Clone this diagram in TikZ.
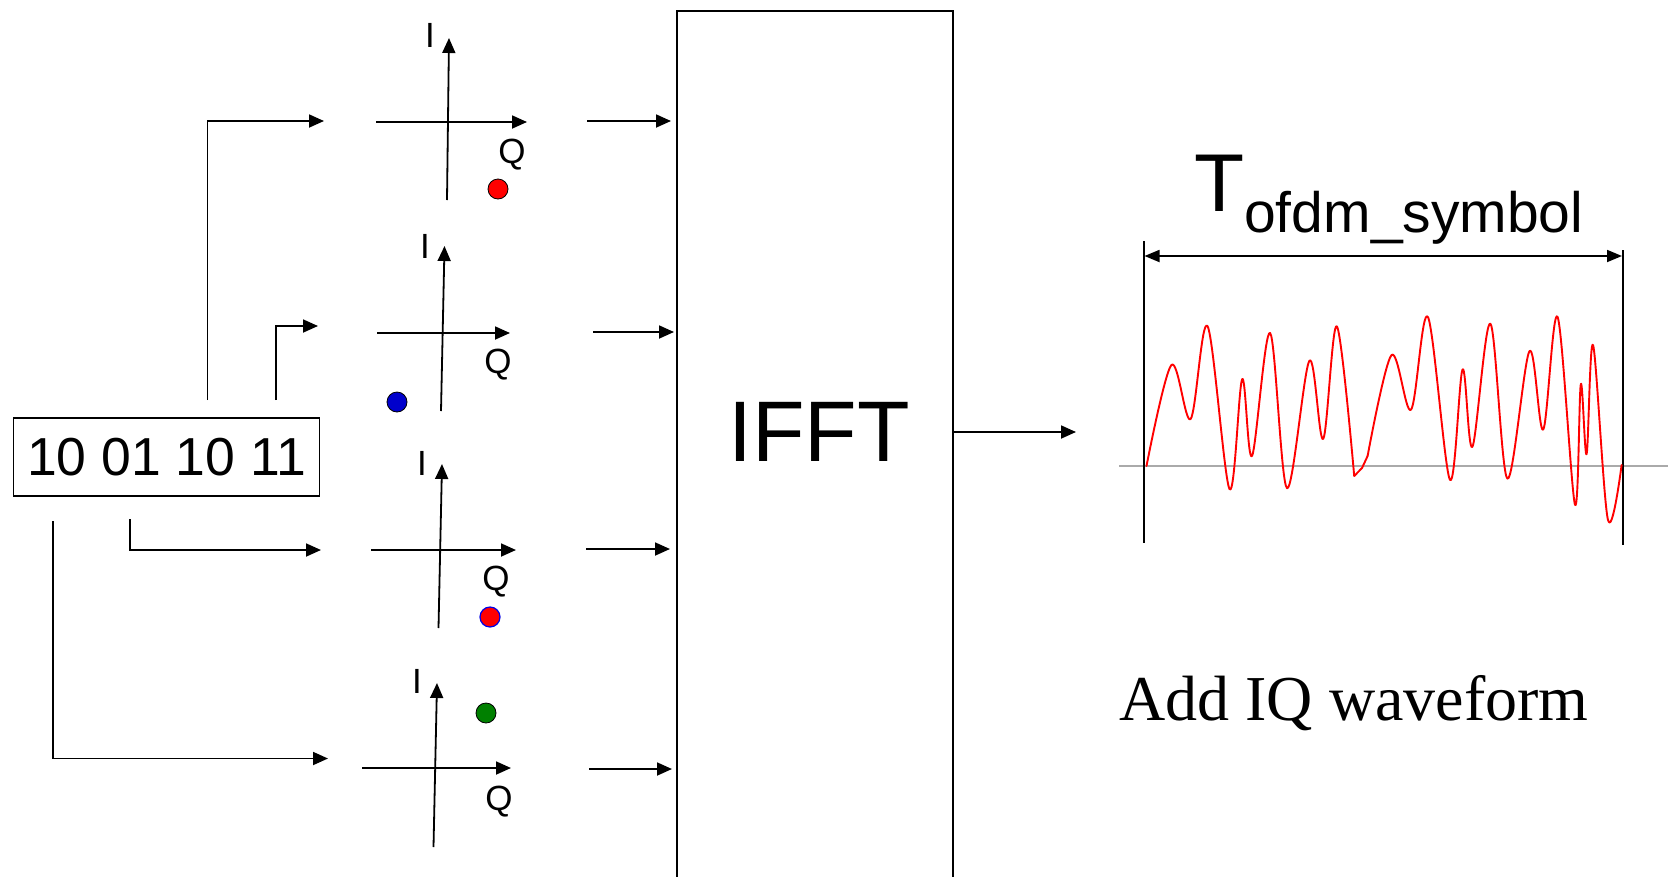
\documentclass[tikz,border=0pt]{standalone}
\usepackage{fontspec}
\setmainfont{Liberation Sans}
\newfontfamily\serifrm{Liberation Serif}
\usetikzlibrary{arrows.meta}
\begin{document}
\begin{tikzpicture}[x=1pt,y=-1pt,
  line/.style={line width=1.8pt, draw=black},
  arr/.style={line, -{Triangle[length=15pt,width=13pt]}},
  axis/.style={line width=1.8pt, draw=black, -{Triangle[length=15pt,width=13pt]}},
  axlabel/.style={font=\fontsize{35}{37}\selectfont, inner sep=0pt},
  dot/.style={circle, minimum size=20pt, inner sep=0pt, draw=black, line width=0.8pt},
  tick/.style={line width=1.8pt, draw=black},
  wave/.style={draw=red, line width=1.9pt, line join=round, line cap=round},
]
\clip (0,0) rectangle (1668,876);
\fill[white] (0,0) rectangle (1668,876);

% bit box
\node[draw, line width=1.8pt, minimum width=306pt, minimum height=78pt, inner sep=0pt,
      font=\fontsize{53.5}{58}\selectfont] (bits) at (166.5,457) {10 01 10 11};

% connectors from bits
\coordinate (a0) at (207.5,400); \coordinate (a1) at (324,121);
\coordinate (b0) at (276,400);   \coordinate (b1) at (318,326);
\coordinate (c0) at (130,519);   \coordinate (c1) at (321,550);
\coordinate (d0) at (53,521);    \coordinate (d1) at (328,758.5);
\draw[arr] (a0) |- (a1);
\draw[arr] (b0) |- (b1);
\draw[arr] (c0) |- (c1);
\draw[arr] (d0) |- (d1);

% constellation 1
\coordinate (vb1) at (447,200); \coordinate (vt1) at (449,38);
\coordinate (hl1) at (376,122); \coordinate (hr1) at (527,122);
\draw[axis] (vb1) -- (vt1);
\draw[axis] (hl1) -- (hr1);
\node[axlabel] (I1) at (430,35) {I};
\node[axlabel] (Q1) at (512,155) {Q};
\node[dot, fill=red] (p1) at (498,189) {};

% constellation 2
\coordinate (vb2) at (441,411); \coordinate (vt2) at (444.5,246);
\coordinate (hl2) at (377,333); \coordinate (hr2) at (510,333);
\draw[axis] (vb2) -- (vt2);
\draw[axis] (hl2) -- (hr2);
\node[axlabel] (I2) at (425,246) {I};
\node[axlabel] (Q2) at (498,365) {Q};
\node[dot, fill={rgb,255:red,0;green,0;blue,204}] (p2) at (397,402) {};

% constellation 3
\coordinate (vb3) at (438.5,628); \coordinate (vt3) at (442,464);
\coordinate (hl3) at (371,550); \coordinate (hr3) at (516,550);
\draw[axis] (vb3) -- (vt3);
\draw[axis] (hl3) -- (hr3);
\node[axlabel] (I3) at (422,463) {I};
\node[axlabel] (Q3) at (496,582) {Q};
\node[dot, fill=red, draw={rgb,255:red,0;green,0;blue,230}, line width=1.2pt] (p3) at (490,617) {};

% constellation 4
\coordinate (vb4) at (433.5,847); \coordinate (vt4) at (437,683);
\coordinate (hl4) at (362,768); \coordinate (hr4) at (511,768);
\draw[axis] (vb4) -- (vt4);
\draw[axis] (hl4) -- (hr4);
\node[axlabel] (I4) at (417,681) {I};
\node[axlabel] (Q4) at (499,802) {Q};
\node[dot, fill={rgb,255:red,0;green,128;blue,0}] (p4) at (486,713) {};

% IFFT block
\node[draw, line width=1.8pt, minimum width=276pt, minimum height=900pt, inner sep=0pt,
      anchor=north west] (ifft) at (676,10) {};
\node[anchor=base, inner sep=0pt, font=\fontsize{86}{90}\selectfont] (iffttext) at (819,461) {IFFT};

% arrows into IFFT
\coordinate (s1) at (587,121); \coordinate (t1) at (671,121);
\coordinate (s2) at (593,332); \coordinate (t2) at (674,332);
\coordinate (s3) at (586,549); \coordinate (t3) at (670,549);
\coordinate (s4) at (589,769); \coordinate (t4) at (672,769);
\draw[arr] (s1) -- (t1);
\draw[arr] (s2) -- (t2);
\draw[arr] (s3) -- (t3);
\draw[arr] (s4) -- (t4);

% IFFT output
\coordinate (o0) at (952,432); \coordinate (o1) at (1076,432);
\draw[arr] (o0) -- (o1);

% waveform area
\draw[draw={rgb,255:red,170;green,170;blue,170}, line width=1.6pt] (1119,466) -- (1668,466);
\coordinate (lt) at (1143.6,241); \coordinate (lb) at (1143.6,543);
\coordinate (rt) at (1623,250);   \coordinate (rb) at (1623,545);
\draw[tick] (lt) -- (lb);
\draw[tick] (rt) -- (rb);
\coordinate (da) at (1144.5,256); \coordinate (db) at (1622,256);
\draw[line, {Triangle[length=15pt,width=12pt]}-{Triangle[length=15pt,width=12pt]}] (da) -- (db);

\node[anchor=base west, inner sep=0pt] (tlabel) at (1194,211)
  {\fontsize{82}{86}\selectfont T\raisebox{-21pt}{\fontsize{57}{60}\selectfont ofdm\_symbol}};

\draw[wave] plot[smooth, tension=0.55] coordinates {(1146.5,466) (1171.4,365) (1190.6,419) (1207.6,326.3) (1229.6,489.2) (1242.2,379) (1252,456) (1270.1,333) (1287,488.2) (1309.4,360.7) (1323.2,438.9) (1336.9,326.3) (1354.2,476)};
\draw[wave] (1354.2,476) -- (1362,468) -- (1367.6,456);
\draw[wave] plot[smooth, tension=0.55] coordinates {(1367.6,456) (1391.5,355.1) (1411,409.7) (1427.9,317) (1450,479.9) (1462.6,369.3) (1472.4,446.8) (1490.4,323.7) (1507.4,478.6) (1529.5,351.1) (1543.2,429.6) (1557.6,317) (1575,504.7) (1580.8,384.2) (1586.6,454.1) (1593.1,345.2) (1607.9,519.6) (1621.6,465)};

\node[anchor=base, inner sep=0pt, font=\serifrm\fontsize{64}{68}\selectfont] (caption) at (1354,720) {Add IQ waveform};
\end{tikzpicture}
\end{document}
